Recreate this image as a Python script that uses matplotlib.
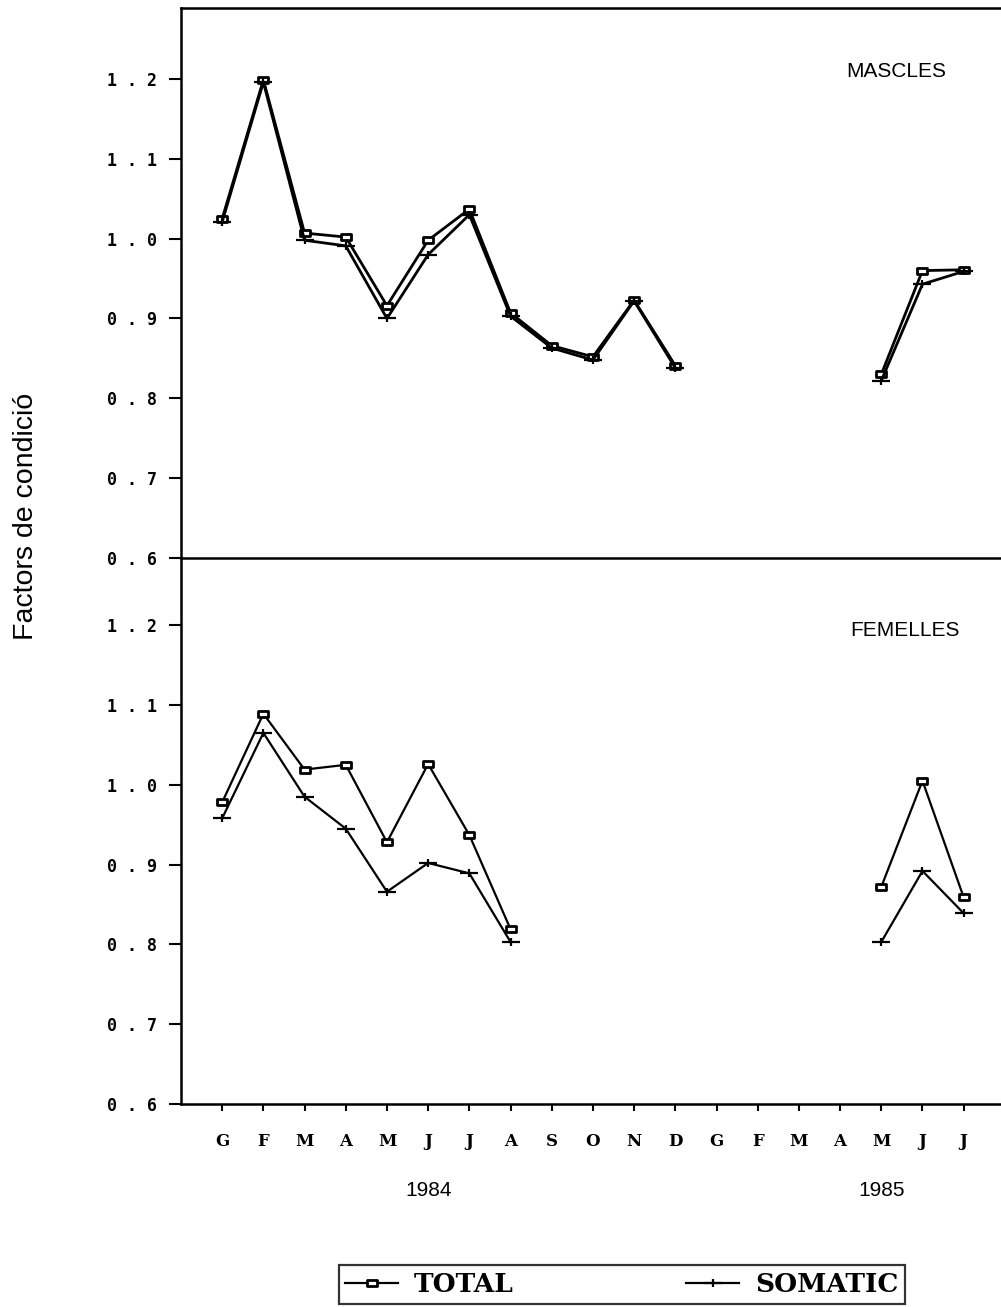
import numpy as np
import matplotlib
matplotlib.use("Agg")
import matplotlib.pyplot as plt
from matplotlib.path import Path

nan = np.nan

# mesos: gener 1984 .. juliol 1985
MONTHS = ["G", "F", "M", "A", "M", "J", "J", "A", "S", "O", "N", "D",
          "G", "F", "M", "A", "M", "J", "J"]
YEARS = ["1984", "1985"]
YEAR_POS = [5, 16]

# mascles
masc_total = [1.025, 1.199, 1.007, 1.002, 0.916, 0.998, 1.037, 0.907, 0.866, 0.852,
              0.923, 0.841, nan, nan, nan, nan, 0.830, 0.960, 0.961]
masc_somatic = [1.021, 1.196, 0.998, 0.991, 0.900, 0.980, 1.030, 0.903, 0.863, 0.848,
                0.922, 0.838, nan, nan, nan, nan, 0.822, 0.943, 0.959]

# femelles
fem_total = [0.978, 1.089, 1.019, 1.025, 0.928, 1.026, 0.937, 0.819, nan, nan,
             nan, nan, nan, nan, nan, nan, 0.872, 1.005, 0.859]
fem_somatic = [0.958, 1.065, 0.985, 0.945, 0.866, 0.902, 0.889, 0.803, nan, nan,
               nan, nan, nan, nan, nan, nan, 0.803, 0.892, 0.839]

YTICKS = [0.6, 0.7, 0.8, 0.9, 1.0, 1.1, 1.2]

# marcadors: rectangle pla i creu ampla
SQUARE = Path([(-1, -0.6), (1, -0.6), (1, 0.6), (-1, 0.6), (-1, -0.6)],
              [Path.MOVETO, Path.LINETO, Path.LINETO, Path.LINETO, Path.CLOSEPOLY])
CROSS = Path([(-1, 0), (1, 0), (0, -0.5), (0, 0.5)],
             [Path.MOVETO, Path.LINETO, Path.MOVETO, Path.LINETO])

TICK_FONT = dict(family="DejaVu Sans Mono", weight="bold", size=12)

fig = plt.figure(figsize=(10.01, 13.07), dpi=100)
ax_bot = fig.add_axes([0.1808, 0.1553, 0.821, 0.4177])
ax_top = fig.add_axes([0.1808, 0.5731, 0.821, 0.4208])

x = np.arange(len(MONTHS))


def draw_panel(ax, total, somatic, ytop, label, label_pos, lw):
    ax.set_facecolor("none")
    ax.plot(x, total, color="black", lw=lw, marker=SQUARE, markersize=7.5,
            markerfacecolor="white", markeredgecolor="black", markeredgewidth=2,
            label="TOTAL")
    ax.plot(x, somatic, color="black", lw=lw, marker=CROSS, markersize=12.5,
            markeredgewidth=1.6, label="SOMATIC")
    ax.set_xlim(-1, 18.95)
    ax.set_ylim(0.6, ytop)
    ax.set_yticks(YTICKS)
    ax.set_yticklabels([f"{v:.1f}".replace(".", " . ") for v in YTICKS], **TICK_FONT)
    ax.tick_params(axis="y", direction="out", length=9, width=1.5, pad=8)
    ax.spines["right"].set_visible(False)
    for s in ax.spines.values():
        s.set_linewidth(1.8)
    ax.text(label_pos[0], label_pos[1], label, transform=ax.transAxes, fontsize=15,
            family="Liberation Sans", va="center")


draw_panel(ax_top, masc_total, masc_somatic, 1.289, "MASCLES", (0.81, 0.885), 2.0)
draw_panel(ax_bot, fem_total, fem_somatic, 1.284, "FEMELLES", (0.814, 0.868), 1.6)

ax_top.set_xticks([])
ax_bot.spines["top"].set_visible(False)
ax_bot.set_xticks(x)
ax_bot.set_xticklabels(MONTHS, family="DejaVu Serif", weight="bold", size=12)
ax_bot.tick_params(axis="x", direction="out", length=5, width=1.5, pad=16)

for pos, yr in zip(YEAR_POS, YEARS):
    ax_bot.text(pos, -0.158, yr, transform=ax_bot.get_xaxis_transform(),
                ha="center", va="center", fontsize=15, family="Liberation Sans")

fig.text(0.026, 0.605, "Factors de condició", rotation=90, ha="center", va="center",
         fontsize=20.5, family="Liberation Sans")

# llegenda en caixa fixa sota el gràfic
handles, labels = ax_bot.get_legend_handles_labels()
leg = fig.legend(handles, labels, loc="center", mode="expand", ncol=2,
                 bbox_to_anchor=(0.325, 0.0, 0.592, 0.0345),
                 frameon=True, fancybox=False, edgecolor="black", handlelength=2.0,
                 handletextpad=0.6, columnspacing=1.5, borderpad=0.25,
                 prop=dict(family="DejaVu Serif", weight="bold", size=19))
leg.get_frame().set_linewidth(1.6)

fig.savefig("out.png", dpi=100)
